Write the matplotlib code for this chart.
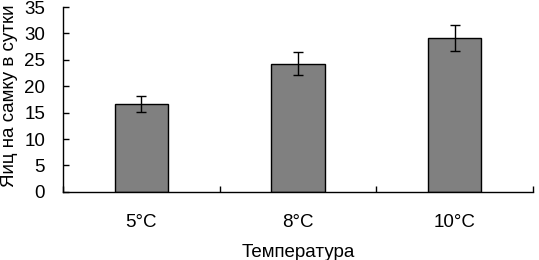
import matplotlib
matplotlib.use("Agg")
import matplotlib.pyplot as plt

categories = ["5°C", "8°C", "10°C"]
eggs = [16.7, 24.3, 29.2]
errors = [1.5, 2.2, 2.45]

plt.rcParams["font.family"] = ["Liberation Sans", "DejaVu Sans"]
plt.rcParams["font.size"] = 13.5

fig = plt.figure(figsize=(5.39, 2.6), dpi=100)
ax = fig.add_axes([0.117, 0.262, 0.872, 0.711])

x = range(len(categories))
ax.bar(x, eggs, width=0.34, color="#808080", edgecolor="black", linewidth=1.0,
       yerr=errors, capsize=3.5, error_kw={"elinewidth": 1.0, "capthick": 1.0, "ecolor": "black"})

ax.set_xlim(-0.5, len(categories) - 0.5)
ax.set_ylim(0, 35)
ax.set_yticks(range(0, 36, 5))

# ticks at category boundaries, labels at centres
ax.set_xticks([i - 0.5 for i in range(len(categories) + 1)])
ax.set_xticklabels([])
ax.set_xticks(list(x), minor=True)
ax.set_xticklabels(categories, minor=True)
ax.tick_params(axis="x", which="major", direction="in", length=4, width=1)
ax.tick_params(axis="x", which="minor", length=0, pad=16)
ax.tick_params(axis="y", direction="in", length=4, width=1, pad=13)

for side in ["top", "right"]:
    ax.spines[side].set_visible(False)
for side in ["left", "bottom"]:
    ax.spines[side].set_linewidth(1.0)

ax.set_xlabel("Температура", labelpad=9)
ax.set_ylabel("Яиц на самку в сутки")
ax.yaxis.set_label_coords(-0.096, 0.52)

fig.savefig("out.png", dpi=100)
